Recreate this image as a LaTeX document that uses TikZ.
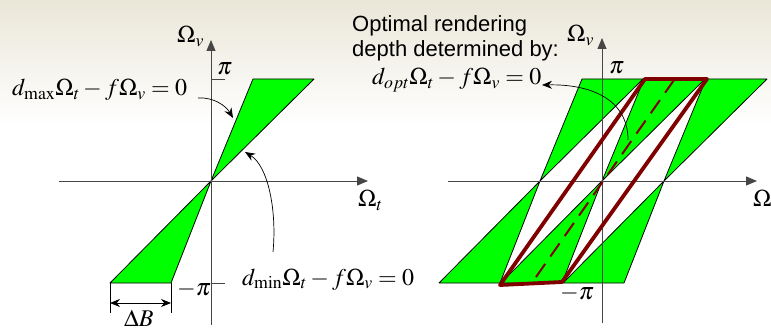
\documentclass[tikz,border=0pt]{standalone}
\usepackage{mathptmx}
\usepackage{fontspec}
\newfontfamily\arial{Liberation Sans}
\usetikzlibrary{arrows.meta}
\definecolor{sgreen}{RGB}{0,255,0}
\definecolor{darkred}{RGB}{128,0,0}
\definecolor{bgtop}{RGB}{234,230,216}
\definecolor{axisgray}{RGB}{70,70,70}
\begin{document}
\begin{tikzpicture}[x=1pt,y=-1pt,
 lab/.style={inner sep=0pt,anchor=base west,font=\fontsize{24}{28}\selectfont},
 sanslab/.style={inner sep=0pt,anchor=base west,font=\arial\fontsize{22}{26}\selectfont},
 axis/.style={draw=axisgray,line width=0.9pt,-{Triangle[length=11pt,width=9pt]}},
 tick/.style={draw=axisgray,line width=0.8pt},
 wedge/.style={fill=sgreen,draw=black,line width=0.8pt,line join=round},
 ann/.style={draw=black,line width=0.7pt,-{Stealth[length=10pt,width=8pt]}},
 dimarrow/.style={draw=black,line width=0.8pt,{Stealth[length=10pt,width=8pt]}-{Stealth[length=10pt,width=8pt]}},
 optbox/.style={draw=darkred,line width=3.8pt,line join=round},
 optline/.style={draw=darkred,line width=2pt,dash pattern=on 16pt off 9pt},
]
\useasboundingbox (0,0) rectangle (771,331);
\clip (0,0) rectangle (771,331);
\fill[white] (0,0) rectangle (771,331);
\shade[top color=bgtop,bottom color=white] (0pt,0pt) rectangle (771pt,-125pt);

% ---------- left diagram ----------
\foreach \c in {211}{
  \draw[wedge] (\c,181) -- ({\c+42},79) -- ({\c+103},79) -- cycle;
  \draw[wedge] (\c,181) -- ({\c-101},283) -- ({\c-40},283) -- cycle;
}
\coordinate (lxs) at (59,181);
\coordinate (lxe) at (368,181);
\coordinate (lys) at (211,325);
\coordinate (lye) at (211,40);
\draw[axis] (lxs) -- (lxe);
\draw[axis] (lys) -- (lye);
\coordinate (t1a) at (212,79); \coordinate (t1b) at (225,79);
\coordinate (t2a) at (212,283); \coordinate (t2b) at (225,283);
\draw[tick] (t1a) -- (t1b);
\draw[tick] (t2a) -- (t2b);

% Delta B dimension
\coordinate (d1a) at (110,283); \coordinate (d1b) at (110,313);
\coordinate (d2a) at (171,283); \coordinate (d2b) at (171,313);
\coordinate (d1m) at (110,303); \coordinate (d2m) at (171,303);
\draw[tick,draw=black] (d1a) -- (d1b);
\draw[tick,draw=black] (d2a) -- (d2b);
\draw[dimarrow] (d1m) -- (d2m);
\node[lab] (dB) at (124,326) {$\Delta B$};

\node[lab] (lOv) at (177,43) {$\Omega_v$};
\node[lab] (lOt) at (358,207) {$\Omega_t$};
\node[lab] (lpi) at (217,75) {$\pi$};
\node[lab] (lmpi) at (177,295) {$-\pi$};

\node[lab] (dmax) at (12,96) {$d_{\mathrm{max}}\Omega_t - f\Omega_v = 0$};
\node[lab] (dmin) at (242,285) {$d_{\mathrm{min}}\Omega_t - f\Omega_v = 0$};
\coordinate (a1s) at (198,98); \coordinate (a1e) at (233,118);
\coordinate (a2s) at (273,252); \coordinate (a2e) at (245,152);
\draw[ann] (a1s) .. controls (214,97) and (226,106) .. (a1e);
\draw[ann] (a2s) .. controls (277,210) and (268,166) .. (a2e);

% ---------- right diagram ----------
\foreach \c in {540,602,664}{
  \draw[wedge] (\c,181) -- ({\c+42},79) -- ({\c+103},79) -- cycle;
  \draw[wedge] (\c,181) -- ({\c-101},283) -- ({\c-40},283) -- cycle;
}
\coordinate (rxs) at (448,181);
\coordinate (rxe) at (757,181);
\coordinate (rys) at (602,323);
\coordinate (rye) at (602,38);
\draw[axis] (rxs) -- (rxe);
\draw[axis] (rys) -- (rye);

\node[lab] (rOv) at (567,42) {$\Omega_v$};
\node[lab] (rOt) at (753,207) {$\Omega_t$};
\node[lab] (rpi) at (609,74) {$\pi$};
\node[lab] (rmpi) at (560,299) {$-\pi$};

\coordinate (p1) at (500,285);
\coordinate (p2) at (562,282);
\coordinate (p3) at (707,79);
\coordinate (p4) at (645,79);
\draw[optbox] (p1) -- (p2) -- (p3) -- (p4) -- cycle;
\coordinate (q1) at (536,277);
\coordinate (q2) at (674,80);
\draw[optline] (q1) -- (q2);

\node[sanslab] (opt1) at (352,32) {Optimal rendering};
\node[sanslab] (opt2) at (352,57) {depth determined by:};
\node[lab] (dopt) at (372,85) {$d_{opt}\Omega_t - f\Omega_v = 0$};
\coordinate (a3s) at (628,140); \coordinate (a3e) at (542,85);
\draw[ann] (a3s) .. controls (628,100) and (592,84) .. (a3e);
\end{tikzpicture}
\end{document}
